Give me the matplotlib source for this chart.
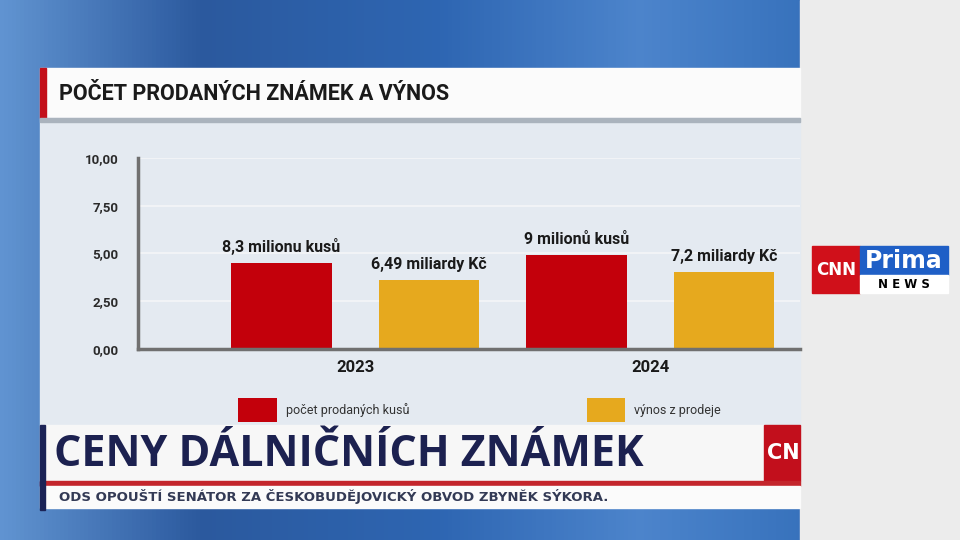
import numpy as np
import matplotlib
matplotlib.use("Agg")
import matplotlib.pyplot as plt
from matplotlib.patches import Rectangle
from matplotlib.transforms import Bbox, TransformedBbox

# data
years = ["2023", "2024"]
sold = [4.50, 4.92]          # bar heights on the 0-10 scale
revenue = [3.60, 4.03]
sold_labels = ["8,3 milionu kusů", "9 milionů kusů"]
revenue_labels = ["6,49 miliardy Kč", "7,2 miliardy Kč"]
series_names = ["počet prodaných kusů", "výnos z prodeje"]
yticks = [0, 2.5, 5, 7.5, 10]
ytick_labels = ["0,00", "2,50", "5,00", "7,50", "10,00"]

title = "POČET PRODANÝCH ZNÁMEK A VÝNOS"
headline = "CENY DÁLNIČNÍCH ZNÁMEK"
ticker = "ODS OPOUŠTÍ SENÁTOR ZA ČESKOBUDĚJOVICKÝ OBVOD ZBYNĚK SÝKORA."

RED = "#c3000b"
YELLOW = "#e6a91e"
NARROW = ["Roboto", "DejaVu Sans"]


def pixel_axes(fig):
    a = fig.add_axes([0, 0, 1, 1])
    a.set_xlim(0, 960)
    a.set_ylim(540, 0)
    a.axis("off")
    a.patch.set_alpha(0)
    return a


fig = plt.figure(figsize=(9.6, 5.4), dpi=100)

# background layer in pixel coordinates
bg = pixel_axes(fig)

# blue studio backdrop
grad = np.linspace(0, 1, 200)
r = np.interp(grad, [0, 0.25, 0.55, 0.8, 1], [0.38, 0.17, 0.18, 0.30, 0.22])
g = np.interp(grad, [0, 0.25, 0.55, 0.8, 1], [0.58, 0.35, 0.40, 0.52, 0.45])
b = np.interp(grad, [0, 0.25, 0.55, 0.8, 1], [0.82, 0.62, 0.70, 0.80, 0.74])
img = np.dstack([np.tile(c, (20, 1)) for c in (r, g, b)])
bg.imshow(img, extent=[0, 800, 540, 0], aspect="auto", zorder=0)
bg.add_patch(Rectangle((800, 0), 160, 540, color="#ececec", zorder=1))

# title bar
bg.add_patch(Rectangle((40, 68), 760, 50, color="#fbfbfb", zorder=2))
bg.add_patch(Rectangle((40, 68), 6, 50, color="#c3101a", zorder=3))
bg.text(59, 94, title, fontsize=15.5, fontweight="bold", family=NARROW,
        color="#1a1a1a", va="center", ha="left", zorder=4)

# chart panel
bg.add_patch(Rectangle((40, 118), 760, 307, color="#e4eaf1", zorder=2))
bg.add_patch(Rectangle((40, 118), 760, 4, color="#aab3bd", zorder=3))

# channel logo
bg.add_patch(Rectangle((812, 246), 48, 47, color="#d0101a", zorder=2))
bg.add_patch(Rectangle((860, 246), 88, 29, color="#1f5fc6", zorder=2))
bg.add_patch(Rectangle((860, 275), 88, 18, color="white", zorder=2))
bg.text(836, 270, "CNN", fontsize=12, fontweight="bold", color="white",
        ha="center", va="center", zorder=3)
bg.text(904, 261, "Prima", fontsize=17, fontweight="bold", color="white",
        ha="center", va="center", zorder=3)
bg.text(904, 285, "N E W S", fontsize=8.5, fontweight="bold", color="black",
        ha="center", va="center", zorder=3)

# the chart itself
ax = fig.add_axes([138 / 960, 1 - 349 / 540, 662 / 960, 191 / 540])
ax.patch.set_alpha(0)
x = np.arange(len(years))
off = 0.25
w = 0.34
b1 = ax.bar(x - off, sold, w, color=RED, label=series_names[0], zorder=3)
b2 = ax.bar(x + off, revenue, w, color=YELLOW, label=series_names[1], zorder=3)
ax.bar_label(b1, labels=sold_labels, padding=6, fontsize=11.5,
             fontweight="bold", family=NARROW, color="#1a1a1a")
ax.bar_label(b2, labels=revenue_labels, padding=6, fontsize=11.5,
             fontweight="bold", family=NARROW, color="#1a1a1a")

ax.set_xlim(-0.736, 1.508)
ax.set_ylim(0, 10)
ax.set_yticks(yticks)
ax.set_yticklabels(ytick_labels, fontsize=9.5, fontweight="bold",
                   family=NARROW, color="#2a2a2a")
ax.set_xticks(x)
ax.set_xticklabels(years, fontsize=12, fontweight="bold",
                   family=NARROW, color="#1a1a1a")
ax.tick_params(axis="y", length=0, pad=14)
ax.tick_params(axis="x", length=0, pad=8)
ax.yaxis.grid(True, color="#f4f6f8", linewidth=1.2, zorder=0)
for s in ("top", "right"):
    ax.spines[s].set_visible(False)
for s in ("left", "bottom"):
    ax.spines[s].set_color("#707070")
    ax.spines[s].set_linewidth(2.5)
    ax.spines[s].set_zorder(4)

leg = ax.legend(loc="upper left", bbox_to_anchor=(238 / 960, 1 - 398 / 540),
                bbox_transform=fig.transFigure, ncol=2, frameon=False,
                prop={"family": NARROW, "size": 9}, handlelength=3.1,
                handleheight=2.6, handletextpad=0.7, columnspacing=14.2,
                borderpad=0, borderaxespad=0)
for t in leg.get_texts():
    t.set_color("#333333")

# lower third drawn over the chart panel
top = pixel_axes(fig)
top.add_patch(Rectangle((40, 425), 724, 56, color="#f7f7f7", zorder=2))
top.add_patch(Rectangle((764, 425), 36, 56, color="#c20f1c", zorder=2))
cnn = top.text(767, 453, "CNN", fontsize=15, fontweight="bold", color="white",
               va="center", ha="left", zorder=3)
cnn.set_clip_box(TransformedBbox(Bbox([[764, 425], [800, 481]]), top.transData))
cnn.set_clip_on(True)
top.add_patch(Rectangle((40, 481), 760, 5, color="#c4262c", zorder=2))
top.add_patch(Rectangle((40, 486), 760, 22, color="#fbfbfb", zorder=2))
top.add_patch(Rectangle((40, 425), 5, 85, color="#1b2356", zorder=3))
top.text(54, 454, headline, fontsize=31, fontweight="bold", family="Open Sans",
         color="#1c2150", va="center", ha="left", zorder=4)
top.text(59, 497, ticker, fontsize=9.5, fontweight="bold", family="DejaVu Sans",
         color="#333a55", va="center", ha="left", zorder=4)

fig.savefig("out.png", dpi=100)
